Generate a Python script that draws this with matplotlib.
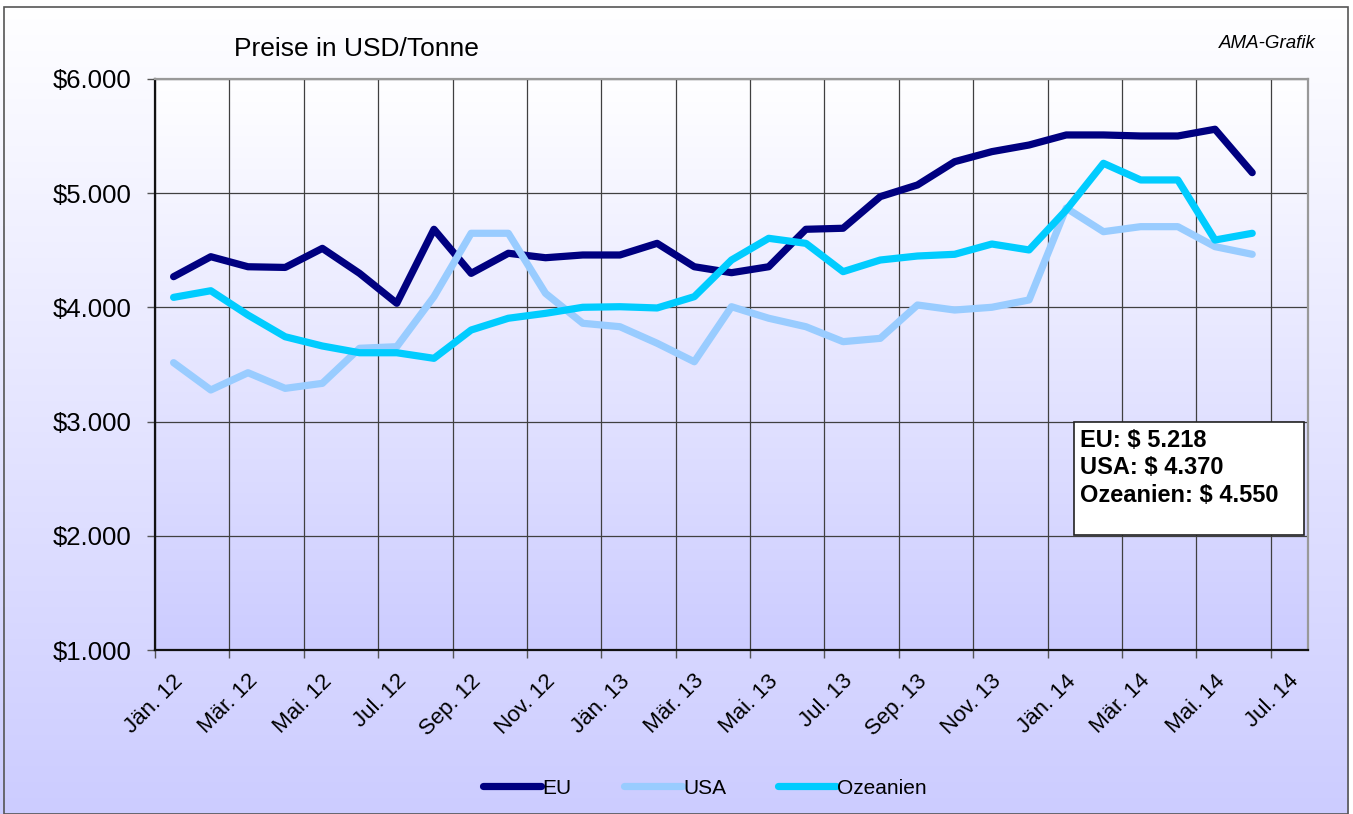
import numpy as np
import matplotlib
matplotlib.use("Agg")
import matplotlib.pyplot as plt
import matplotlib.transforms as mtransforms
from matplotlib.patches import Rectangle
from matplotlib.colors import LinearSegmentedColormap

plt.rcParams['font.family'] = ['Liberation Sans', 'DejaVu Sans']

# ---- data ----
tick_labels = ["Jän. 12", "Mär. 12", "Mai. 12", "Jul. 12", "Sep. 12", "Nov. 12",
               "Jän. 13", "Mär. 13", "Mai. 13", "Jul. 13", "Sep. 13", "Nov. 13",
               "Jän. 14", "Mär. 14", "Mai. 14", "Jul. 14"]
months = np.arange(30) + 0.5   # Jän.12 ... Jun.14 (monthly, mid-month)

eu = [4269, 4444, 4356, 4350, 4517, 4298, 4036, 4684, 4298, 4474,
      4435, 4459, 4459, 4561, 4356, 4304, 4356, 4684, 4693, 4970,
      5072, 5276, 5364, 5422, 5510, 5510, 5501, 5501, 5560, 5180]
usa = [3516, 3277, 3428, 3291, 3335, 3642, 3656, 4094, 4649, 4649,
       4123, 3861, 3831, 3686, 3524, 4006, 3905, 3831, 3700, 3729,
       4021, 3977, 4001, 4065, 4870, 4663, 4707, 4707, 4532, 4465]
oze = [4088, 4146, 3933, 3743, 3662, 3603, 3603, 3554, 3802, 3905,
       3948, 4001, 4006, 3995, 4094, 4415, 4605, 4561, 4313, 4415,
       4450, 4465, 4555, 4503, 4853, 5262, 5116, 5116, 4590, 4649]

series_names = ["EU", "USA", "Ozeanien"]
series_colors = ["#000080", "#99ccff", "#00ccff"]
box_lines = ["EU: $ 5.218", "USA: $ 4.370", "Ozeanien: $ 4.550"]

W, H = 1353, 814
fig = plt.figure(figsize=(W / 100, H / 100), dpi=100)

# figure background gradient
grad = LinearSegmentedColormap.from_list("g", ["#ffffff", "#ccccff"])
bg = fig.add_axes([0, 0, 1, 1], zorder=-5)
bg.imshow(np.linspace(0, 1, 256)[:, None], aspect="auto", cmap=grad,
          extent=[0, 1, 0, 1], transform=bg.transAxes)
bg.add_patch(Rectangle((4 / W, 0), 1344 / W, 1 - 7 / H, transform=bg.transAxes,
                       fill=False, edgecolor="#555555", lw=1.2))
bg.add_patch(Rectangle((1349 / W, 0), 4 / W, 1, transform=bg.transAxes,
                       facecolor="white", edgecolor="none"))
bg.set_axis_off()

ax = fig.add_axes([155 / W, 1 - 650 / H, (1308 - 155) / W, (650 - 79) / H])
ax.imshow(np.linspace(0, 1, 256)[:, None], aspect="auto", cmap=grad,
          extent=[0, 1, 0, 1], transform=ax.transAxes, zorder=0)

for vals, name, col in zip([eu, usa, oze], series_names, series_colors):
    ax.plot(months, vals, color=col, lw=5.2, label=name, zorder=3,
            solid_capstyle="round", solid_joinstyle="round")

ax.set_xlim(0, 31)
ax.set_ylim(1000, 6000)
xt = np.arange(0, 31, 2)
ax.set_xticks(xt)
ax.set_xticklabels([])
lab_tr = (mtransforms.blended_transform_factory(ax.transData, ax.transAxes)
          + mtransforms.ScaledTranslation(0.25, -0.28, fig.dpi_scale_trans))
for xv, lab in zip(xt, tick_labels):
    ax.text(xv, 0, lab, transform=lab_tr, rotation=45, ha="right",
            va="center", rotation_mode="anchor", fontsize=16, clip_on=False)
yt = np.arange(1000, 6001, 1000)
ax.set_yticks(yt)
ax.set_yticklabels(["$" + f"{v:,}".replace(",", ".") for v in yt], fontsize=18.5)
ax.tick_params(axis="x", length=5.5, width=1, color="#555555", direction="out")
ax.tick_params(axis="y", length=5.8, width=1, color="#555555", pad=11,
               direction="out")
ax.grid(True, color="#404040", lw=0.9, zorder=1)
ax.set_axisbelow(True)
for s in ["left", "bottom"]:
    ax.spines[s].set_color("#111111"); ax.spines[s].set_linewidth(1.6)
for s in ["top", "right"]:
    ax.spines[s].set_color("#999999"); ax.spines[s].set_linewidth(1.6)

fig.text(234 / W, 1 - 49 / H, "Preise in USD/Tonne", fontsize=19,
         ha="left", va="center")
fig.text(1316 / W, 1 - 43 / H, "AMA-Grafik", fontsize=13.5, style="italic",
         ha="right", va="center")

# annotation box
fig.patches.append(Rectangle((1074 / W, 1 - 535 / H), 230 / W, 113 / H,
                             transform=fig.transFigure, facecolor="white",
                             edgecolor="#222222", lw=1.2, zorder=5))
for k, line in enumerate(box_lines):
    fig.text(1080 / W, 1 - (441 + 27 * k) / H, line, fontsize=17,
             fontweight="bold", ha="left", va="center", zorder=6)

fig.legend(loc="center", bbox_to_anchor=(705 / W, 1 - 788 / H), ncol=3,
           frameon=False, fontsize=15, handlelength=2.8, handletextpad=0.05,
           columnspacing=2.5)

fig.savefig("out.png", dpi=100)
